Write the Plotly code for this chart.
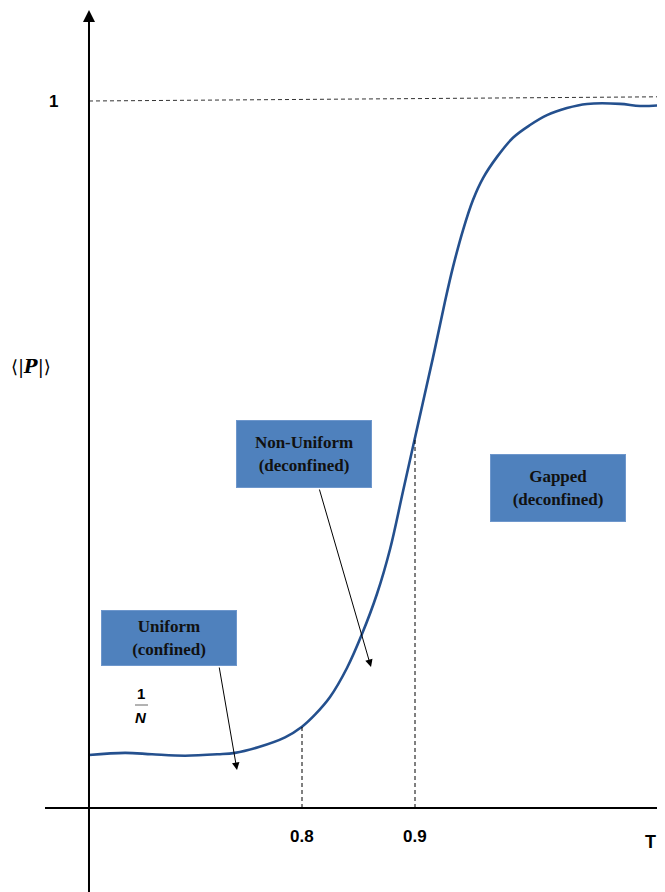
import numpy as np
import plotly.graph_objects as go

# ---- data ----
T = [0.6115, 0.6434, 0.6673, 0.6965, 0.7257, 0.7407, 0.7611, 0.7850, 0.8000,
     0.8115, 0.8248, 0.8398, 0.8531, 0.8664, 0.8779, 0.8894, 0.9027, 0.9159,
     0.9265, 0.9336, 0.9425, 0.9513, 0.9602, 0.9726, 0.9867, 1.0018, 1.0168,
     1.0345, 1.0522, 1.0814, 1.0991, 1.1168]
P = [0.075, 0.078, 0.076, 0.074, 0.076, 0.078, 0.086, 0.100, 0.115,
     0.132, 0.157, 0.198, 0.246, 0.303, 0.366, 0.448, 0.543, 0.637,
     0.716, 0.765, 0.8175, 0.860, 0.891, 0.921, 0.948, 0.966, 0.980,
     0.990, 0.9958, 0.996, 0.993, 0.994]
tick_vals = [0.8, 0.9]
tick_text = ["0.8", "0.9"]
y_one = 1.0
box_labels = ["Uniform<br>(confined)", "Non-Uniform<br>(deconfined)", "Gapped<br>(deconfined)"]

W, H = 665, 892
OFF = 8  # page body margin in the browser

# screen pixel -> data helpers for layout placement
def tx(px):
    return 0.8 + (px - 302) / 1130.0

def vy(py):
    return (808 - py) / 707.0

x_rng = [tx(OFF), tx(W)]
y_rng = [vy(H), vy(OFF)]

fig = go.Figure()
fig.add_trace(go.Scatter(x=T, y=P, mode="lines", line=dict(color="#24508E", width=2.6, shape="spline", smoothing=1.0),
                         hoverinfo="skip", showlegend=False))

shapes = []
# horizontal axis
shapes.append(dict(type="line", x0=tx(45), x1=tx(W + 5), y0=0, y1=0, line=dict(color="black", width=2)))
# dashed line at 1
shapes.append(dict(type="line", x0=T[0], x1=tx(W), y0=y_one, y1=y_one + 0.006,
                   line=dict(color="#333", width=1, dash="4px,3px")))
# dashed verticals at ticks, up to the curve
for tv in tick_vals:
    top = float(np.interp(tv, T, P))
    shapes.append(dict(type="line", x0=tv, x1=tv, y0=0, y1=top, line=dict(color="black", width=1, dash="4px,3px")))
# fraction bar for 1/N
shapes.append(dict(type="line", x0=tx(135), x1=tx(148), y0=vy(705), y1=vy(705), line=dict(color="#666", width=1)))

annotations = []
# vertical axis with arrow
annotations.append(dict(x=T[0], y=vy(10), ax=T[0], ay=y_rng[0] - 0.02, xref="x", yref="y", axref="x", ayref="y",
                        text="", showarrow=True, arrowhead=2, arrowsize=1.2, arrowwidth=2, arrowcolor="black"))

lab_font = dict(family="Liberation Sans, Arial", size=17, color="black")
for tv, tt in zip(tick_vals, tick_text):
    annotations.append(dict(x=tv, y=vy(836), text="<b>%s</b>" % tt, showarrow=False, font=lab_font))
annotations.append(dict(x=tx(650), y=vy(842), text="<b>T</b>", showarrow=False,
                        font=dict(family="Liberation Sans, Arial", size=18, color="black")))
annotations.append(dict(x=tx(53), y=y_one, text="<b>1</b>", showarrow=False, font=lab_font))
annotations.append(dict(x=tx(31), y=vy(367), text="⟨|<b><i>P</i></b>|⟩", showarrow=False,
                        font=dict(family="DejaVu Serif, Liberation Serif", size=18, color="black")))
annotations.append(dict(x=tx(141), y=vy(693), text="<b>1</b>", showarrow=False,
                        font=dict(family="Liberation Sans, Arial", size=15, color="black")))
annotations.append(dict(x=tx(141), y=vy(717), text="<b><i>N</i></b>", showarrow=False,
                        font=dict(family="Liberation Sans, Arial", size=15, color="black")))

# text boxes
box_font = dict(family="Liberation Serif, Times New Roman", size=17, color="#111")
boxes = [((169, 638), 134, 54), ((304, 454), 134, 66), ((558, 488), 134, 66)]
for (c, w, h), lab in zip(boxes, box_labels):
    annotations.append(dict(x=tx(c[0]), y=vy(c[1]), text="<b>%s</b>" % lab, showarrow=False, font=box_font,
                            bgcolor="#4F81BD", bordercolor="#6E97CC", borderwidth=1, width=w, height=h,
                            borderpad=0, align="center", valign="middle"))

# pointer arrows
for (sx, sy), (ex, ey) in [((219, 666), (237, 770)), ((319, 488), (371, 667))]:
    annotations.append(dict(x=tx(ex), y=vy(ey), ax=tx(sx), ay=vy(sy), xref="x", yref="y", axref="x", ayref="y",
                            text="", showarrow=True, arrowhead=2, arrowsize=1.5, arrowwidth=1, arrowcolor="black"))

fig.update_layout(width=W - OFF, height=H - OFF, margin=dict(l=0, r=0, t=0, b=0),
                  paper_bgcolor="white", plot_bgcolor="white",
                  xaxis=dict(range=x_rng, visible=False, fixedrange=True),
                  yaxis=dict(range=y_rng, visible=False, fixedrange=True),
                  shapes=shapes, annotations=annotations, showlegend=False)
fig.write_html("out.html")
